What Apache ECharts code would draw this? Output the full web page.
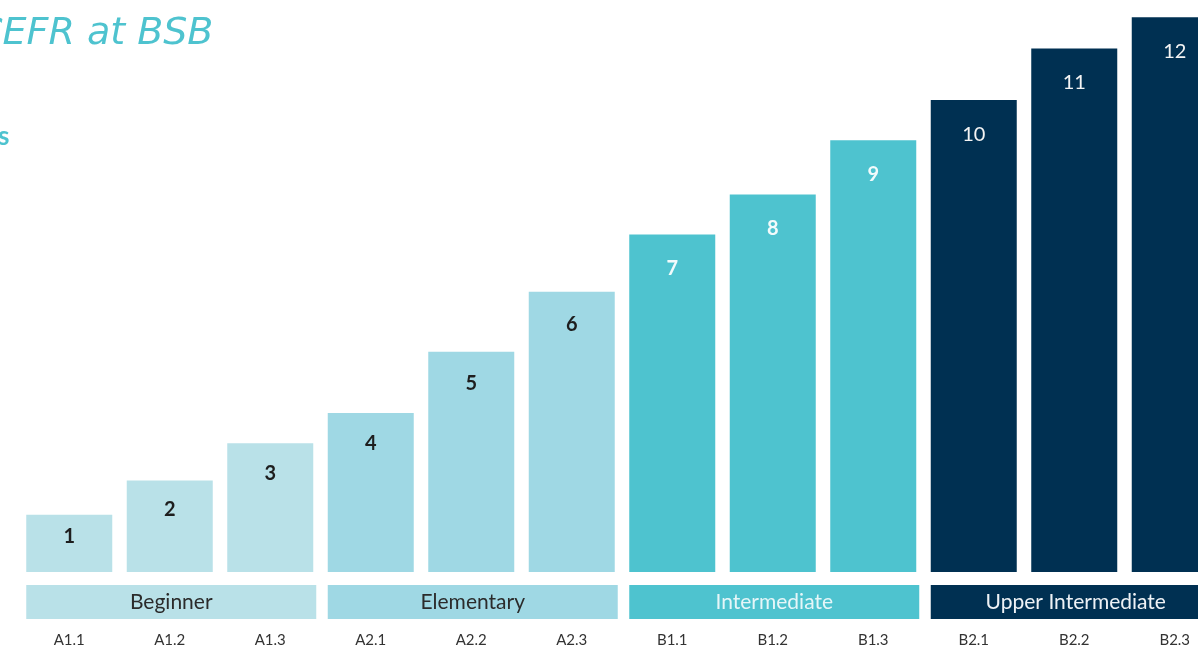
<!DOCTYPE html>
<html>
<head>
<meta charset="utf-8">
<script src="https://cdn.jsdelivr.net/npm/echarts@6/dist/echarts.min.js"></script>
<style>
html,body{margin:0;padding:0;background:#fff;overflow:hidden;width:1198px;height:648px;}
#c{width:1240px;height:648px;}
</style>
</head>
<body>
<div id="c"></div>
<script>
// ---- data ----
var categories = ['A1.1','A1.2','A1.3','A2.1','A2.2','A2.3','B1.1','B1.2','B1.3','B2.1','B2.2','B2.3'];
var barHeights = [1.0, 1.6, 2.25, 2.78, 3.85, 4.9, 5.9, 6.6, 7.55, 8.25, 9.15, 9.7];
var levelLabels = ['1','2','3','4','5','6','7','8','9','10','11','12'];
var groupNames = ['Beginner','Elementary','Intermediate','Upper Intermediate'];
var groupStart = [0, 3, 6, 9];
var groupEnd = [2, 5, 8, 11];
var barGroup = [0,0,0,1,1,1,2,2,2,3,3,3];

// ---- styles ----
var groupColors = ['#b9e1e8', '#9fd8e4', '#4ec3cf', '#003052'];
var groupTextColors = ['#2b2b2b', '#2b2b2b', '#e6f6f8', '#eef2f6'];
var barLabelColors = ['#1e1e1e', '#1e1e1e', '#f2fbfc', '#f4f4f4'];
var barLabelWeights = ['bold', 'bold', 'bold', 'normal'];
var FONT = 'Lato, "Open Sans", sans-serif';
var BAR_W = 86;

var chart = echarts.init(document.getElementById('c'));

var barData = barHeights.map(function (v, i) {
  var g = barGroup[i];
  return {
    value: v,
    itemStyle: { color: groupColors[g] },
    label: { color: barLabelColors[g], fontWeight: barLabelWeights[g], formatter: levelLabels[i],
             distance: i === 0 ? 12 : 18 + Math.min(i, 6) }
  };
});

var groupData = groupNames.map(function (n, i) {
  return [groupStart[i], groupEnd[i], n, i];
});

chart.setOption({
  backgroundColor: '#ffffff',
  animation: false,
  grid: [
    { left: 19, width: 1206, top: 0, bottom: 76, containLabel: false },
    { left: 19, width: 1206, top: 585, height: 35, containLabel: false }
  ],
  xAxis: [
    { type: 'category', gridIndex: 0, data: categories, show: false },
    { type: 'category', gridIndex: 1, data: categories,
      axisLine: { show: false }, axisTick: { show: false },
      axisLabel: { show: true, color: '#333', fontSize: 15, fontFamily: FONT, margin: 14 } }
  ],
  yAxis: [
    { type: 'value', gridIndex: 0, min: 0, max: 10, show: false },
    { type: 'value', gridIndex: 1, min: 0, max: 1, show: false }
  ],
  graphic: [
    { type: 'text', left: -24, top: 15,
      style: { text: 'CEFR at BSB', fill: '#4ec3cf', font: 'italic 200 38px "DejaVu Sans", sans-serif' } },
    { type: 'text', left: -2, top: 124,
      style: { text: 's', fill: '#4ec3cf', font: 'bold 26px ' + FONT } }
  ],
  series: [
    {
      type: 'bar', xAxisIndex: 0, yAxisIndex: 0,
      barWidth: BAR_W,
      data: barData,
      label: { show: true, position: 'insideTop',
               fontSize: 20, fontFamily: FONT }
    },
    {
      type: 'custom', xAxisIndex: 1, yAxisIndex: 1,
      data: groupData,
      renderItem: function (params, api) {
        var s = api.coord([api.value(0), 0]);
        var e = api.coord([api.value(1), 1]);
        var x0 = s[0] - BAR_W / 2;
        var x1 = e[0] + BAR_W / 2 + 3;
        var y0 = e[1];
        var h = s[1] - e[1];
        var gi = api.value(3);
        return {
          type: 'group',
          children: [
            { type: 'rect', shape: { x: x0, y: y0, width: x1 - x0, height: h },
              style: { fill: groupColors[gi] } },
            { type: 'text', x: (x0 + x1) / 2, y: y0 + h / 2,
              style: { text: groupNames[gi], fill: groupTextColors[gi],
                       font: '21px ' + FONT, align: 'center', verticalAlign: 'middle' } }
          ]
        };
      }
    }
  ]
});
</script>
</body>
</html>
